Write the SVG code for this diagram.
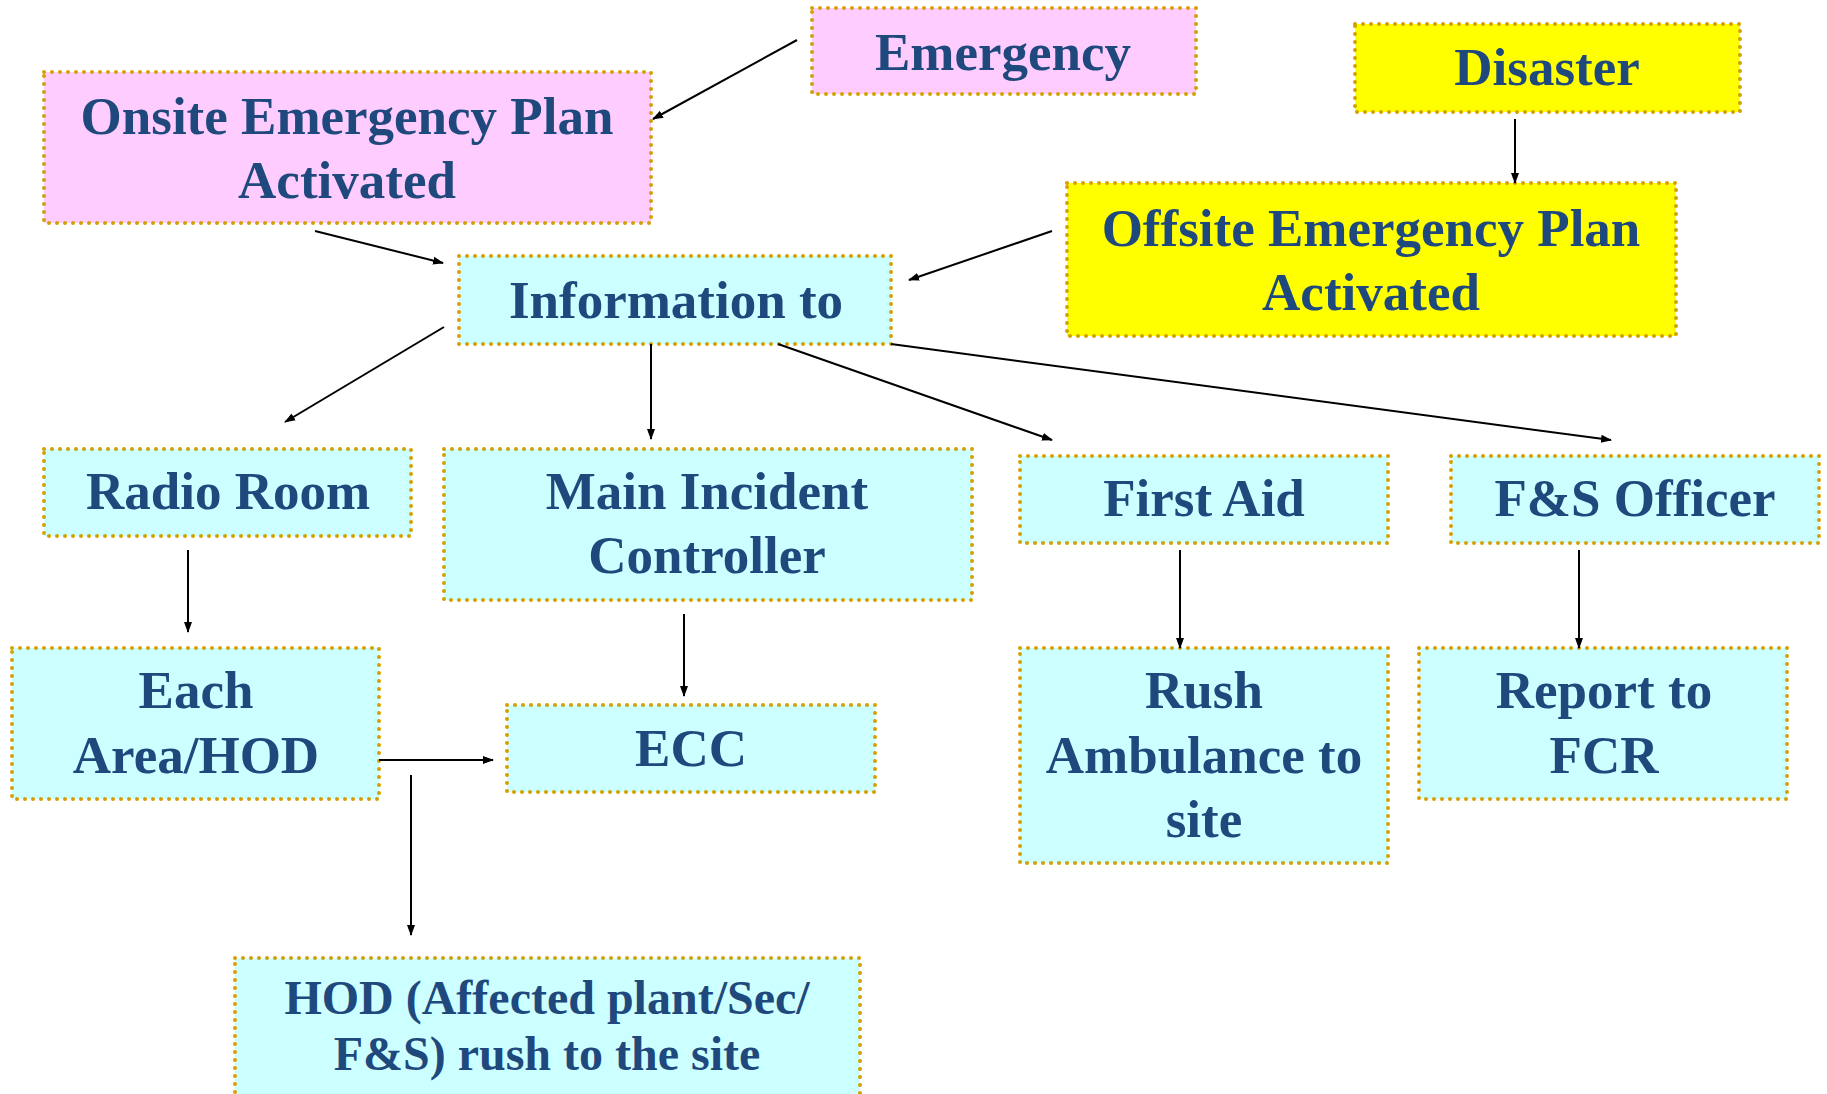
<svg xmlns="http://www.w3.org/2000/svg" width="1827" height="1094" viewBox="0 0 1827 1094">
<style>
.box{stroke:#D6A000;stroke-width:4;stroke-dasharray:0 8;stroke-linecap:round}
.pink{fill:#FFCCFF}.cyan{fill:#CCFFFF}.yel{fill:#FFFF00}
text{font-family:"Liberation Serif","Times New Roman",serif;font-weight:bold;font-size:53px;fill:#1F497D;text-anchor:middle}
.sm{font-size:48px}
.c line{stroke:#000;stroke-width:2;marker-end:url(#ah)}
</style>
<defs>
<marker id="ah" markerWidth="11" markerHeight="10" refX="10" refY="5" orient="auto" markerUnits="userSpaceOnUse">
<path d="M0,1 L11,5 L0,9 Z" fill="#000"/>
</marker>
</defs>
<rect width="1827" height="1094" fill="#fff"/>
<g id="emergency"><rect class="box pink" x="812" y="8" width="384" height="86"/><text x="1003" y="70">Emergency</text></g>
<g id="onsite"><rect class="box pink" x="44" y="72" width="607" height="151"/><text x="347" y="134">Onsite Emergency Plan</text><text x="347" y="198">Activated</text></g>
<g id="disaster"><rect class="box yel" x="1355" y="24" width="385" height="88"/><text x="1547" y="85">Disaster</text></g>
<g id="offsite"><rect class="box yel" x="1067" y="183" width="609" height="153"/><text x="1371" y="246">Offsite Emergency Plan</text><text x="1371" y="310">Activated</text></g>
<g id="info"><rect class="box cyan" x="459" y="256" width="432" height="88"/><text x="676" y="318">Information to</text></g>
<g id="radio"><rect class="box cyan" x="44" y="449" width="367" height="87"/><text x="228" y="509">Radio Room</text></g>
<g id="mic"><rect class="box cyan" x="444" y="449" width="528" height="151"/><text x="707" y="509">Main Incident</text><text x="707" y="573">Controller</text></g>
<g id="firstaid"><rect class="box cyan" x="1020" y="456" width="368" height="87"/><text x="1204" y="516">First Aid</text></g>
<g id="fso"><rect class="box cyan" x="1451" y="456" width="368" height="87"/><text x="1635" y="516">F&amp;S Officer</text></g>
<g id="each"><rect class="box cyan" x="12" y="648" width="367" height="151"/><text x="196" y="708">Each</text><text x="196" y="773">Area/HOD</text></g>
<g id="ecc"><rect class="box cyan" x="507" y="705" width="368" height="87"/><text x="691" y="766">ECC</text></g>
<g id="rush"><rect class="box cyan" x="1020" y="648" width="368" height="215"/><text x="1204" y="708">Rush</text><text x="1204" y="773">Ambulance to</text><text x="1204" y="837">site</text></g>
<g id="report"><rect class="box cyan" x="1419" y="648" width="368" height="151"/><text x="1604" y="708">Report to</text><text x="1604" y="773">FCR</text></g>
<g id="hod"><rect class="box cyan" x="235" y="958" width="625" height="150"/><text class="sm" x="547" y="1014">HOD (Affected plant/Sec/</text><text class="sm" x="547" y="1070">F&amp;S) rush to the site</text></g>
<g id="connectors" class="c">
<line x1="797" y1="40" x2="653" y2="119"/>
<line x1="315" y1="231" x2="443" y2="263"/>
<line x1="1515" y1="119" x2="1515" y2="183"/>
<line x1="1052" y1="231" x2="909" y2="280"/>
<line x1="444" y1="327" x2="285" y2="422"/>
<line x1="651" y1="344" x2="651" y2="439"/>
<line x1="778" y1="344" x2="1052" y2="440"/>
<line x1="891" y1="344" x2="1611" y2="440"/>
<line x1="188" y1="550" x2="188" y2="632"/>
<line x1="684" y1="614" x2="684" y2="696"/>
<line x1="379" y1="760" x2="493" y2="760"/>
<line x1="411" y1="775" x2="411" y2="935"/>
<line x1="1180" y1="550" x2="1180" y2="648"/>
<line x1="1579" y1="550" x2="1579" y2="648"/>
</g>
</svg>
